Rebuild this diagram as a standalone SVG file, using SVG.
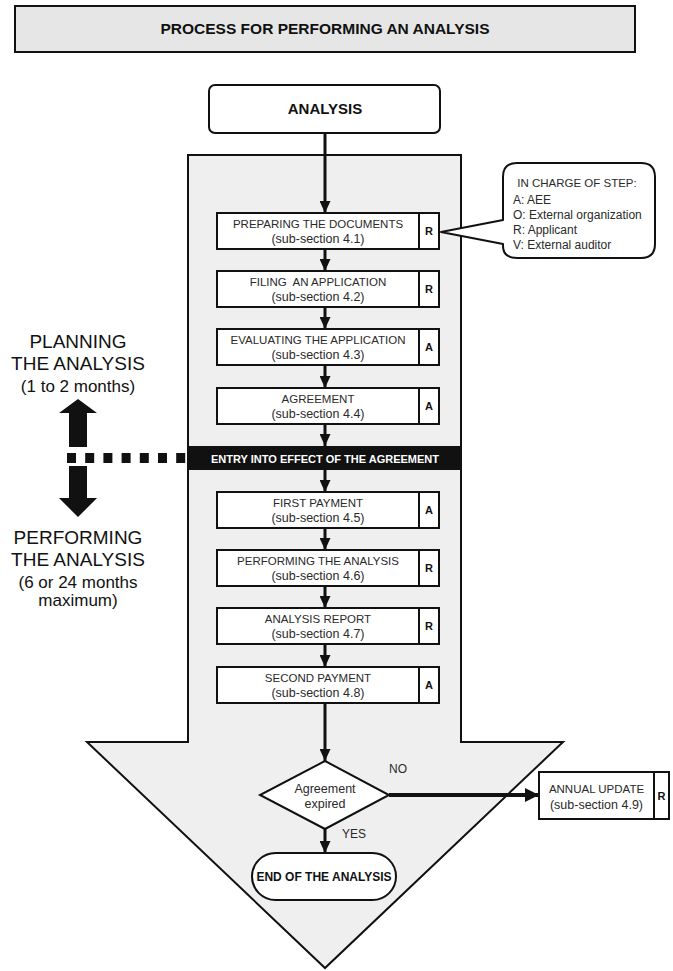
<svg xmlns="http://www.w3.org/2000/svg" width="673" height="971" viewBox="0 0 673 971">
<defs>
<style>
text{font-family:"Liberation Sans",Arial,sans-serif;fill:#2a2a2a}
.b{font-weight:bold;fill:#111}
.box{fill:#fff;stroke:#111;stroke-width:2}
.t1{font-size:11.5px;text-anchor:middle}
.t2{font-size:12.5px;text-anchor:middle}
.r{font-size:11px;font-weight:bold;text-anchor:middle;fill:#111}
.big{font-size:19px;text-anchor:middle;fill:#111}
.mid{font-size:17px;text-anchor:middle;fill:#111}
.c{stroke:#111;stroke-width:3;fill:none}
.co{font-size:12px}
</style>
<marker id="ah" viewBox="0 0 12 11" refX="12" refY="5.5" markerWidth="12" markerHeight="11" markerUnits="userSpaceOnUse" orient="auto"><path d="M0,0 L12,5.5 L0,11 z" fill="#111"/></marker>
<marker id="ah2" viewBox="0 0 14 14" refX="14" refY="7" markerWidth="14" markerHeight="14" markerUnits="userSpaceOnUse" orient="auto"><path d="M0,0 L14,7 L0,14 z" fill="#111"/></marker>
</defs>
<rect width="673" height="971" fill="#fff"/>

<g id="title">
<rect x="15" y="6" width="620" height="46" fill="#e5e6e5" stroke="#111" stroke-width="2"/>
<text x="325" y="34" class="b" font-size="15.5" text-anchor="middle">PROCESS FOR PERFORMING AN ANALYSIS</text>
</g>

<g id="bigarrow">
<polygon points="188,155 461,155 461,742 563,742 325,968 87,742 188,742" fill="#efefef" stroke="#111" stroke-width="2" stroke-linejoin="miter"/>
</g>

<g id="analysis">
<rect x="209" y="85" width="231" height="48" rx="6" class="box"/>
<text x="325" y="114" class="b" font-size="15" text-anchor="middle">ANALYSIS</text>
</g>

<g id="timeline">
<polygon points="78,399 97,413 87,413 87,447 69,447 69,413 59,413" fill="#111"/>
<polygon points="78,517 97,498 87,498 87,466 69,466 69,498 59,498" fill="#111"/>
<line x1="67" y1="458" x2="188" y2="458" stroke="#111" stroke-width="10" stroke-dasharray="9 9.2"/>
<text class="big" x="78" y="348">PLANNING</text>
<text class="big" x="78" y="370">THE ANALYSIS</text>
<text class="mid" x="78" y="392">(1 to 2 months)</text>
<text class="big" x="78" y="544">PERFORMING</text>
<text class="big" x="78" y="566">THE ANALYSIS</text>
<text class="mid" x="78" y="588">(6 or 24 months</text>
<text class="mid" x="78" y="606">maximum)</text>
</g>

<g id="entry">
<rect x="188" y="446" width="273" height="24" fill="#111"/>
<text x="325" y="463" font-size="11" font-weight="bold" text-anchor="middle" style="fill:#fff">ENTRY INTO EFFECT OF THE AGREEMENT</text>
</g>

<g id="connectors">
<line class="c" x1="325" y1="133" x2="325" y2="213" marker-end="url(#ah)"/>
<line class="c" x1="325" y1="249" x2="325" y2="271" marker-end="url(#ah)"/>
<line class="c" x1="325" y1="307" x2="325" y2="329" marker-end="url(#ah)"/>
<line class="c" x1="325" y1="365" x2="325" y2="388" marker-end="url(#ah)"/>
<line class="c" x1="325" y1="424" x2="325" y2="446" marker-end="url(#ah)"/>
<line class="c" x1="325" y1="470" x2="325" y2="492" marker-end="url(#ah)"/>
<line class="c" x1="325" y1="528" x2="325" y2="550" marker-end="url(#ah)"/>
<line class="c" x1="325" y1="586" x2="325" y2="608" marker-end="url(#ah)"/>
<line class="c" x1="325" y1="644" x2="325" y2="667" marker-end="url(#ah)"/>
<line class="c" x1="325" y1="703" x2="325" y2="761" marker-end="url(#ah)"/>
<line class="c" x1="325" y1="829" x2="325" y2="853" marker-end="url(#ah)"/>
<line x1="389" y1="795" x2="539" y2="795" stroke="#111" stroke-width="4" marker-end="url(#ah2)"/>
</g>

<g id="step1">
<rect x="217" y="213" width="222" height="36" class="box"/><line x1="419" y1="213" x2="419" y2="249" stroke="#111" stroke-width="2"/>
<text class="t1" x="318" y="228">PREPARING THE DOCUMENTS</text><text class="t2" x="318" y="243">(sub-section 4.1)</text><text class="r" x="429" y="235">R</text>
</g>
<g id="step2">
<rect x="217" y="271" width="222" height="36" class="box"/><line x1="419" y1="271" x2="419" y2="307" stroke="#111" stroke-width="2"/>
<text class="t1" x="318" y="286" style="white-space:pre">FILING  AN APPLICATION</text><text class="t2" x="318" y="301">(sub-section 4.2)</text><text class="r" x="429" y="293">R</text>
</g>
<g id="step3">
<rect x="217" y="329" width="222" height="36" class="box"/><line x1="419" y1="329" x2="419" y2="365" stroke="#111" stroke-width="2"/>
<text class="t1" x="318" y="344">EVALUATING THE APPLICATION</text><text class="t2" x="318" y="359">(sub-section 4.3)</text><text class="r" x="429" y="351">A</text>
</g>
<g id="step4">
<rect x="217" y="388" width="222" height="36" class="box"/><line x1="419" y1="388" x2="419" y2="424" stroke="#111" stroke-width="2"/>
<text class="t1" x="318" y="403">AGREEMENT</text><text class="t2" x="318" y="418">(sub-section 4.4)</text><text class="r" x="429" y="410">A</text>
</g>
<g id="step5">
<rect x="217" y="492" width="222" height="36" class="box"/><line x1="419" y1="492" x2="419" y2="528" stroke="#111" stroke-width="2"/>
<text class="t1" x="318" y="507">FIRST PAYMENT</text><text class="t2" x="318" y="522">(sub-section 4.5)</text><text class="r" x="429" y="514">A</text>
</g>
<g id="step6">
<rect x="217" y="550" width="222" height="36" class="box"/><line x1="419" y1="550" x2="419" y2="586" stroke="#111" stroke-width="2"/>
<text class="t1" x="318" y="565">PERFORMING THE ANALYSIS</text><text class="t2" x="318" y="580">(sub-section 4.6)</text><text class="r" x="429" y="572">R</text>
</g>
<g id="step7">
<rect x="217" y="608" width="222" height="36" class="box"/><line x1="419" y1="608" x2="419" y2="644" stroke="#111" stroke-width="2"/>
<text class="t1" x="318" y="623">ANALYSIS REPORT</text><text class="t2" x="318" y="638">(sub-section 4.7)</text><text class="r" x="429" y="630">R</text>
</g>
<g id="step8">
<rect x="217" y="667" width="222" height="36" class="box"/><line x1="419" y1="667" x2="419" y2="703" stroke="#111" stroke-width="2"/>
<text class="t1" x="318" y="682">SECOND PAYMENT</text><text class="t2" x="318" y="697">(sub-section 4.8)</text><text class="r" x="429" y="689">A</text>
</g>

<g id="legend">
<path d="M517,163 H641 Q655,163 655,177 V244 Q655,258 641,258 H517 Q503,258 503,246 L503,244 L441,232 L503,220 L503,177 Q503,163 517,163 Z" fill="#fff" stroke="#111" stroke-width="2" stroke-linejoin="round"/>
<text x="577" y="187" font-size="11.5" text-anchor="middle">IN CHARGE OF STEP:</text>
<text class="co" x="513" y="204">A: AEE</text>
<text class="co" x="513" y="219">O: External organization</text>
<text class="co" x="513" y="234">R: Applicant</text>
<text class="co" x="513" y="249">V: External auditor</text>
</g>

<g id="decision">
<polygon points="325,761 389,795 325,829 260,795" fill="#fff" stroke="#111" stroke-width="2"/>
<text class="t2" x="325" y="793">Agreement</text>
<text class="t2" x="325" y="808">expired</text>
<text x="389" y="773" font-size="12">NO</text>
<text x="342" y="838" font-size="12">YES</text>
</g>

<g id="annual">
<rect x="539" y="772" width="130" height="47" class="box"/><line x1="654" y1="772" x2="654" y2="819" stroke="#111" stroke-width="2"/>
<text class="t1" x="596.5" y="793">ANNUAL UPDATE</text><text class="t2" x="596.5" y="809">(sub-section 4.9)</text><text class="r" x="661.5" y="800">R</text>
</g>

<g id="end">
<rect x="252" y="853" width="144" height="47" rx="23.5" class="box"/>
<text x="324" y="881" class="b" font-size="12" text-anchor="middle">END OF THE ANALYSIS</text>
</g>
</svg>
